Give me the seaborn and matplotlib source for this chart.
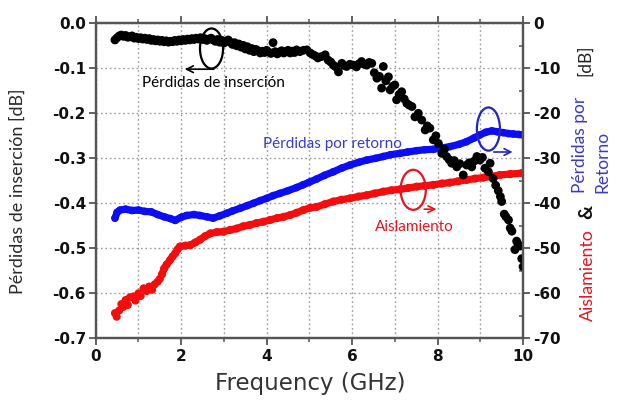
import matplotlib
matplotlib.use("Agg")
import matplotlib.pyplot as plt
from matplotlib.patches import Ellipse
from matplotlib.ticker import MultipleLocator
import seaborn as sns
import pandas as pd

# ---- Insertion loss (left axis, dB) ----
ins_freq = [0.45, 0.50, 0.55, 0.60, 0.65, 0.70, 0.75, 0.80, 0.85, 0.90, 0.95, 1.00,
            1.05, 1.10, 1.15, 1.20, 1.25, 1.30, 1.35, 1.40, 1.45, 1.50, 1.55, 1.60,
            1.65, 1.70, 1.75, 1.80, 1.85, 1.90, 1.95, 2.00, 2.05, 2.10, 2.15, 2.20,
            2.25, 2.30, 2.35, 2.40, 2.45, 2.50, 2.55, 2.60, 2.65, 2.70, 2.75, 2.80,
            2.85, 2.90, 2.95, 3.00, 3.05, 3.10, 3.15, 3.20, 3.25, 3.30, 3.35, 3.40,
            3.45, 3.50, 3.55, 3.60, 3.65, 3.70, 3.75, 3.80, 3.85, 3.90, 3.95, 4.00,
            4.05, 4.10, 4.15, 4.20, 4.25, 4.30, 4.35, 4.40, 4.45, 4.50, 4.55, 4.60,
            4.65, 4.70, 4.78, 4.86, 4.94, 5.02, 5.09, 5.15, 5.20, 5.28, 5.37, 5.44,
            5.50, 5.56, 5.62, 5.68, 5.76, 5.82, 5.87, 5.95, 6.03, 6.10, 6.16, 6.22,
            6.28, 6.34, 6.40, 6.46, 6.52, 6.58, 6.64, 6.69, 6.73, 6.79, 6.85, 6.89,
            6.95, 7.00, 7.04, 7.10, 7.16, 7.22, 7.28, 7.34, 7.40, 7.47, 7.55, 7.63,
            7.71, 7.76, 7.82, 7.90, 7.96, 8.02, 8.10, 8.16, 8.21, 8.27, 8.33, 8.39,
            8.45, 8.52, 8.60, 8.68, 8.74, 8.80, 8.86, 8.92, 8.99, 9.05, 9.11, 9.19,
            9.23, 9.30, 9.36, 9.42, 9.47, 9.50, 9.56, 9.60, 9.66, 9.70, 9.74, 9.81,
            9.85, 9.88, 9.93, 9.97, 10.00]
ins_loss = [-0.037, -0.032, -0.028, -0.026, -0.029, -0.027, -0.031, -0.030, -0.028, -0.033, -0.031, -0.034,
            -0.032, -0.035, -0.033, -0.036, -0.034, -0.038, -0.036, -0.039, -0.037, -0.040, -0.038, -0.041,
            -0.039, -0.042, -0.040, -0.041, -0.038, -0.040, -0.037, -0.039, -0.036, -0.038, -0.035, -0.037,
            -0.034, -0.036, -0.033, -0.035, -0.032, -0.036, -0.034, -0.038, -0.035, -0.033, -0.037, -0.040,
            -0.036, -0.042, -0.038, -0.044, -0.040, -0.037, -0.042, -0.047, -0.043, -0.050, -0.046, -0.053,
            -0.049, -0.057, -0.052, -0.060, -0.056, -0.063, -0.058, -0.061, -0.066, -0.062, -0.065, -0.060,
            -0.064, -0.067, -0.043, -0.063, -0.068, -0.064, -0.061, -0.066, -0.063, -0.060, -0.066, -0.062,
            -0.065, -0.059, -0.063, -0.060, -0.059, -0.066, -0.070, -0.073, -0.077, -0.074, -0.070, -0.082,
            -0.086, -0.093, -0.097, -0.108, -0.089, -0.094, -0.096, -0.091, -0.093, -0.097, -0.090, -0.085,
            -0.091, -0.093, -0.087, -0.089, -0.110, -0.122, -0.118, -0.144, -0.096, -0.128, -0.119, -0.148,
            -0.140, -0.137, -0.170, -0.158, -0.152, -0.168, -0.178, -0.182, -0.185, -0.208, -0.200, -0.215,
            -0.237, -0.228, -0.233, -0.259, -0.250, -0.267, -0.289, -0.280, -0.296, -0.303, -0.311, -0.305,
            -0.319, -0.312, -0.337, -0.315, -0.310, -0.319, -0.306, -0.296, -0.304, -0.298, -0.322, -0.330,
            -0.311, -0.345, -0.360, -0.372, -0.385, -0.396, -0.424, -0.430, -0.437, -0.455, -0.462, -0.503,
            -0.484, -0.490, -0.495, -0.523, -0.541]

# ---- Return loss (right axis, dB) ----
ret_freq = [0.45, 0.50, 0.57, 0.70, 0.85, 1.00, 1.15, 1.30, 1.45, 1.60, 1.75, 1.86,
            2.00, 2.13, 2.30, 2.44, 2.60, 2.75, 2.90, 3.07, 3.20, 3.38, 3.55, 3.69,
            3.85, 4.00, 4.15, 4.31, 4.50, 4.70, 4.85, 5.00, 5.17, 5.35, 5.56, 5.75,
            5.95, 6.15, 6.34, 6.55, 6.73, 6.90, 7.12, 7.30, 7.51, 7.70, 7.90, 8.10,
            8.29, 8.50, 8.68, 8.85, 8.99, 9.13, 9.27, 9.40, 9.54, 9.66, 9.77, 9.90, 10.00]
ret_loss = [-43.3, -42.0, -41.5, -41.3, -41.6, -41.5, -41.8, -41.9, -42.5, -43.0, -43.4, -43.8,
            -43.1, -42.7, -42.5, -42.7, -43.0, -43.3, -42.8, -42.2, -41.7, -41.1, -40.5, -40.0,
            -39.4, -38.9, -38.3, -37.8, -37.2, -36.5, -35.9, -35.3, -34.6, -33.8, -33.0, -32.2,
            -31.5, -30.9, -30.4, -30.0, -29.6, -29.2, -28.9, -28.6, -28.3, -28.1, -28.0, -27.7,
            -27.4, -26.9, -26.3, -25.5, -24.8, -24.2, -23.9, -24.1, -24.3, -24.5, -24.6, -24.7, -24.8]

# ---- Isolation (right axis, dB) ----
iso_freq = [0.45, 0.49, 0.55, 0.60, 0.65, 0.70, 0.75, 0.80, 0.88, 0.93, 1.00, 1.05,
            1.12, 1.19, 1.25, 1.32, 1.38, 1.45, 1.50, 1.55, 1.60, 1.66, 1.74, 1.80,
            1.86, 1.92, 1.97, 2.10, 2.21, 2.33, 2.44, 2.56, 2.68, 2.83, 2.99, 3.15,
            3.30, 3.45, 3.61, 3.76, 3.92, 4.08, 4.24, 4.40, 4.55, 4.70, 4.86, 5.02,
            5.17, 5.36, 5.56, 5.75, 5.95, 6.15, 6.34, 6.53, 6.73, 6.92, 7.12, 7.31,
            7.51, 7.70, 7.90, 8.10, 8.29, 8.48, 8.68, 8.88, 9.07, 9.27, 9.46, 9.70, 9.97]
iso_loss = [-64.4, -65.2, -63.8, -62.4, -63.0, -61.5, -62.6, -60.9, -60.7, -61.6, -60.0, -60.6,
            -58.9, -59.5, -58.5, -59.2, -58.0, -57.4, -56.8, -55.8, -54.5, -53.6, -52.6, -51.8,
            -51.1, -50.2, -49.6, -49.4, -49.3, -48.7, -48.1, -47.3, -46.7, -46.4, -46.3, -45.9,
            -45.6, -45.1, -44.8, -44.4, -44.1, -43.7, -43.3, -43.0, -42.6, -42.1, -41.5, -41.0,
            -40.8, -40.2, -39.6, -39.2, -38.9, -38.5, -38.2, -37.8, -37.4, -37.1, -36.9, -36.6,
            -36.3, -36.1, -35.9, -35.6, -35.4, -35.1, -34.8, -34.5, -34.3, -34.0, -33.7, -33.5, -33.3]

x_ticks = [0, 2, 4, 6, 8, 10]
left_ticks = [0.0, -0.1, -0.2, -0.3, -0.4, -0.5, -0.6, -0.7]
right_ticks = [0, -10, -20, -30, -40, -50, -60, -70]

BLUE = "#0c0cf5"
RED = "#f50c0c"
AX_GRAY = "#555555"

sns.set_theme(style="white")
plt.rcParams["font.family"] = ["DejaVu Sans"]

fig = plt.figure(figsize=(6.24, 4.08), dpi=100)
ax = fig.add_axes([0.1534, 0.1708, 0.6848, 0.7721])
ax2 = ax.twinx()
# insertion-loss axis on top so its dots sit above the coloured bands
ax.set_zorder(2)
ax.patch.set_visible(False)
ax2.set_zorder(1)

ret = pd.DataFrame({"f": ret_freq, "dB": ret_loss})
iso = pd.DataFrame({"f": iso_freq, "dB": iso_loss})

sns.lineplot(data=ret, x="f", y="dB", ax=ax2, color=BLUE, lw=5.2, solid_capstyle="round")
sns.scatterplot(data=ret, x="f", y="dB", ax=ax2, color=BLUE, s=30, edgecolor="none")
sns.lineplot(data=iso[iso["f"] >= 1.55], x="f", y="dB", ax=ax2, color=RED, lw=5.2,
             solid_capstyle="round")
sns.scatterplot(data=iso, x="f", y="dB", ax=ax2, color=RED, s=34, edgecolor="none")

sns.scatterplot(x=ins_freq, y=ins_loss, ax=ax, color="black", s=40, edgecolor="none")

# axes limits / ticks
ax.set_xlim(0, 10)
ax.set_ylim(-0.7, 0.0)
ax2.set_ylim(-70, 0)
ax.xaxis.set_major_locator(MultipleLocator(2))
ax.xaxis.set_minor_locator(MultipleLocator(1))
ax.set_xticks(x_ticks, labels=[str(t) for t in x_ticks], fontweight="bold", fontsize=11)
ax.set_yticks(left_ticks, labels=[f"{t:.1f}" for t in left_ticks], fontweight="bold", fontsize=11)
ax2.set_yticks(right_ticks, labels=[str(t) for t in right_ticks], fontweight="bold", fontsize=11)
ax2.yaxis.set_minor_locator(MultipleLocator(5))
ax.set_xlabel("")
ax.set_ylabel("")
ax2.set_xlabel("")
ax2.set_ylabel("")

ax.tick_params(axis="x", which="major", direction="out", length=5, width=1.3,
               color=AX_GRAY, top=True, bottom=True, labelcolor="#111111", pad=3)
ax.tick_params(axis="x", which="minor", direction="out", length=3, width=1.1,
               color=AX_GRAY, top=True, bottom=True)
ax.tick_params(axis="y", which="major", direction="out", length=5, width=1.3,
               color=AX_GRAY, left=True, right=False, labelcolor="#111111", pad=2)
ax2.tick_params(axis="y", which="major", direction="out", length=5, width=1.3,
                color=AX_GRAY, right=True, labelcolor="#111111", pad=2)
ax2.tick_params(axis="y", which="minor", direction="in", length=3, width=1.1,
                color=AX_GRAY, right=True)

# dotted grid on the lower axes
ax2.xaxis.set_visible(True)
ax2.tick_params(axis="x", which="both", bottom=False, top=False,
                labelbottom=False, labeltop=False)
grid_kw = dict(color="#9a9a9a", linestyle=(0, (1.2, 2.0)), linewidth=1.0)
ax2.grid(True, axis="x", which="both", **grid_kw)
ax2.grid(True, axis="y", which="major", **grid_kw)
ax.grid(False)

for a in (ax, ax2):
    for sp in a.spines.values():
        sp.set_color(AX_GRAY)
        sp.set_linewidth(1.6)

lab_font = ["Lato", "DejaVu Sans"]

# curve annotations: ellipse + arrow + name
ax.add_patch(Ellipse((2.71, -0.056), width=0.54, height=0.089, fill=False,
                     ec="black", lw=1.6, zorder=5))
ax.annotate("", xy=(2.02, -0.102), xytext=(2.83, -0.102),
            arrowprops=dict(arrowstyle="->", color="black", lw=1.2))
ax.text(2.75, -0.133, "Pérdidas de inserción", ha="center", va="center",
        fontsize=11, family=lab_font, color="black")

ax2.add_patch(Ellipse((9.19, -23.5), width=0.54, height=9.6, fill=False,
                      ec="#2424c0", lw=1.6, zorder=5))
ax2.annotate("", xy=(9.82, -28.6), xytext=(9.25, -28.6),
             arrowprops=dict(arrowstyle="->", color="#2424c0", lw=1.2))
ax2.text(5.54, -26.8, "Pérdidas por retorno", ha="center", va="center",
         fontsize=11, family=lab_font, color="#3a3ac8")

ax2.add_patch(Ellipse((7.43, -37.0), width=0.59, height=8.9, fill=False,
                      ec="#e8141e", lw=1.6, zorder=5))
ax2.annotate("", xy=(8.04, -41.3), xytext=(7.62, -41.3),
             arrowprops=dict(arrowstyle="->", color="#e8141e", lw=1.2))
ax2.text(7.45, -45.3, "Aislamiento", ha="center", va="center",
         fontsize=11, family=lab_font, color="#e8141e")

# axis titles
fig.text(0.497, 0.061, "Frequency (GHz)", ha="center", va="center",
         fontsize=16.5, color="#333333")
fig.text(0.029, 0.532, "Pérdidas de inserción [dB]", ha="center", va="center",
         rotation=90, fontsize=13, family=lab_font, color="#2a2a2a")

fig.text(0.9375, 0.853, "[dB]", ha="center", va="center", rotation=90,
         fontsize=12.5, family=lab_font, color="#222222")
fig.text(0.929, 0.527, "Pérdidas por", ha="center", va="bottom", rotation=90,
         fontsize=12.5, family=lab_font, color="#3a3ac8")
fig.text(0.966, 0.527, "Retorno", ha="center", va="bottom", rotation=90,
         fontsize=12.5, family=lab_font, color="#3a3ac8")
fig.text(0.941, 0.480, "&", ha="center", va="center", rotation=90,
         fontsize=14, fontweight="bold", family=lab_font, color="#111111")
fig.text(0.942, 0.326, "Aislamiento", ha="center", va="center", rotation=90,
         fontsize=12.8, family=lab_font, color="#e8141e")

fig.savefig("out.png", dpi=100, facecolor="white")
